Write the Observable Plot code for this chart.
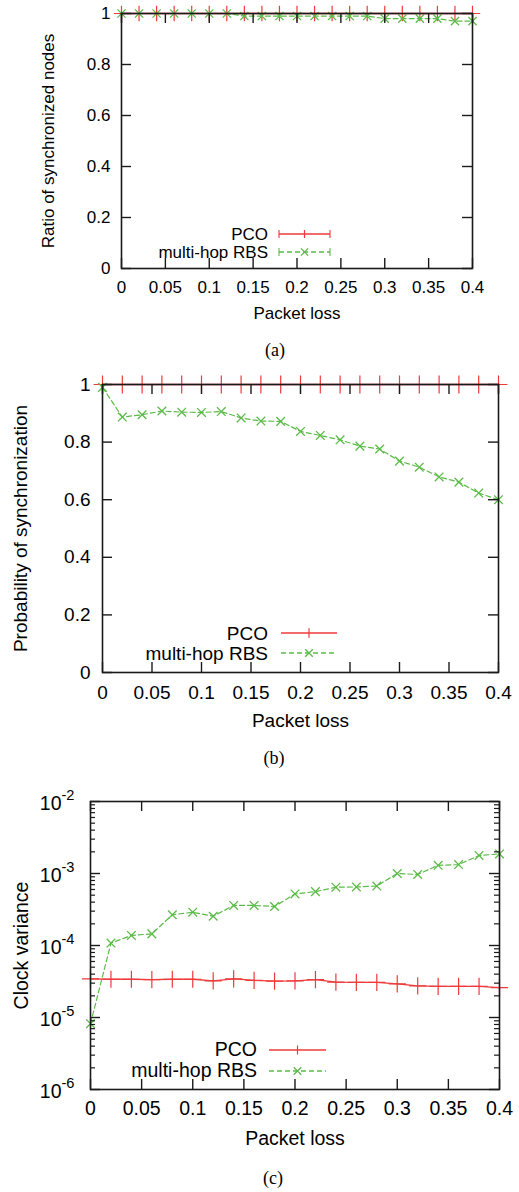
<!DOCTYPE html>
<html><head><meta charset="utf-8">
<script src="https://cdn.jsdelivr.net/npm/d3@7"></script>
<script src="https://cdn.jsdelivr.net/npm/@observablehq/plot@0.6"></script>
<style>
body{margin:0;background:#fff;}
#root{position:relative;width:519px;height:1192px;overflow:hidden;}
.panel{position:absolute;left:0;}
.cap{position:absolute;font-family:"Liberation Serif","DejaVu Serif",serif;font-size:18px;transform:translate(-50%,-50%);white-space:nowrap;}
.lg{position:absolute;font-family:"Liberation Sans",Arial,sans-serif;white-space:nowrap;text-align:right;line-height:1;}
.lgs{position:absolute;}
</style></head><body><div id="root"></div>
<script>
const packetLoss = [0,0.02,0.04,0.06,0.08,0.1,0.12,0.14,0.16,0.18,0.2,0.22,0.24,0.26,0.28,0.3,0.32,0.34,0.36,0.38,0.4];
const xTicks = [0,0.05,0.1,0.15,0.2,0.25,0.3,0.35,0.4];
const xTickLabels = ["0","0.05","0.1","0.15","0.2","0.25","0.3","0.35","0.4"];
const yTicks = [0,0.2,0.4,0.6,0.8,1];
const yTickLabels = ["0","0.2","0.4","0.6","0.8","1"];
const logTicks = [1e-6,1e-5,1e-4,1e-3,1e-2];
const logTickBase = ["10","10","10","10","10"];
const logTickExp = ["-6","-5","-4","-3","-2"];
const seriesNames = ["PCO","multi-hop RBS"];

// (a) Ratio of synchronized nodes
const pcoRatio = [1,1,1,1,1,1,1,1,1,1,1,1,1,1,1,1,1,1,1,1,1];
const rbsRatio = [1,1,1,1,1,1,1,0.99,0.99,0.99,0.99,0.99,0.99,0.99,0.99,0.98,0.98,0.98,0.98,0.97,0.97];
// (b) Probability of synchronization
const pcoProb = [1,1,1,1,1,1,1,1,1,1,1,1,1,1,1,1,1,1,1,1,1];
const rbsProb = [0.99,0.887,0.895,0.908,0.904,0.903,0.906,0.884,0.873,0.872,0.837,0.823,0.808,0.786,0.776,0.734,0.713,0.679,0.661,0.623,0.600];
// (c) Clock variance
const pcoVar = [3.44e-5,3.4e-5,3.4e-5,3.35e-5,3.4e-5,3.4e-5,3.23e-5,3.44e-5,3.27e-5,3.2e-5,3.23e-5,3.35e-5,3.1e-5,3.08e-5,3.08e-5,2.94e-5,2.75e-5,2.7e-5,2.7e-5,2.7e-5,2.6e-5];
const rbsVar = [8.2e-6,1.08e-4,1.38e-4,1.45e-4,2.67e-4,2.9e-4,2.55e-4,3.6e-4,3.6e-4,3.48e-4,5.2e-4,5.6e-4,6.45e-4,6.5e-4,6.7e-4,1.0e-3,9.7e-4,1.3e-3,1.33e-3,1.78e-3,1.87e-3];

const RED = "#f03a3a", GREEN = "#5bbb48", INK = "#1a1a1a";
const root = document.getElementById("root");

function minorLogTicks(){
  const out = [];
  for (let e = -6; e < -2; e++) for (let m = 2; m <= 9; m++) out.push(m * Math.pow(10, e));
  return out;
}

function makePanel(o){
  const W = 519 - o.mL - o.mR, H = o.height - o.mT - o.mB;
  const rows = packetLoss.map((x, i) => ({x, pco: o.pco[i], rbs: o.rbs[i]}));
  const marks = [
    Plot.line(rows, {x: "x", y: "pco", stroke: RED, strokeWidth: 1.3}),
    Plot.line(rows, {x: "x", y: "rbs", stroke: GREEN, strokeWidth: 1.2, strokeDasharray: "5,3"}),
    Plot.dot(rows, {x: "x", y: "pco", symbol: "plus", r: o.plusR, stroke: RED, strokeWidth: 1.2}),
    Plot.dot(rows, {x: "x", y: "rbs", symbol: "times", r: o.timesR, stroke: GREEN, strokeWidth: 1.3}),
    Plot.frame({stroke: INK, strokeWidth: 1.6}),
    Plot.tickX(xTicks, {x: d => d, stroke: INK, strokeWidth: 1.4, insetTop: H - 10}),
    Plot.tickX(xTicks, {x: d => d, stroke: INK, strokeWidth: 1.4, insetBottom: H - 10}),
    Plot.tickY(o.yTicks, {y: d => d, stroke: INK, strokeWidth: 1.4, insetRight: W - 10}),
    Plot.tickY(o.yTicks, {y: d => d, stroke: INK, strokeWidth: 1.4, insetLeft: W - 10}),
  ];
  if (o.minor) {
    marks.push(Plot.tickY(o.minor, {y: d => d, stroke: INK, strokeWidth: 1.2, insetRight: W - 5}));
    marks.push(Plot.tickY(o.minor, {y: d => d, stroke: INK, strokeWidth: 1.2, insetLeft: W - 5}));
  }
  marks.push(
    Plot.axisX({ticks: xTicks, tickFormat: (d, i) => xTickLabels[i], tickSize: 0, tickPadding: o.xPad, label: null, fontSize: o.fs}),
    Plot.text([o.yTitle], {frameAnchor: "left", dx: o.yTitleX - o.mL, rotate: -90, textAnchor: "middle", lineAnchor: "middle", text: d => d, fontSize: o.fs, fill: "#000"}),
    Plot.text(["Packet loss"], {frameAnchor: "bottom", dy: o.xTitleY, textAnchor: "middle", lineAnchor: "middle", text: d => d, fontSize: o.fs, fill: "#000"})
  );
  if (o.yType === "log") {
    marks.push(
      Plot.text(logTicks, {y: d => d, frameAnchor: "left", dx: -o.yPad - 15, dy: 2, textAnchor: "end", lineAnchor: "middle", text: (d, i) => logTickBase[i], fontSize: o.fs, fill: "#000"}),
      Plot.text(logTicks, {y: d => d, frameAnchor: "left", dx: -o.yPad - 15, dy: -6, textAnchor: "start", lineAnchor: "middle", text: (d, i) => logTickExp[i], fontSize: o.fs * 0.75, fill: "#000"})
    );
  } else {
    marks.push(Plot.axisY({ticks: o.yTicks, tickFormat: (d, i) => o.yLabels[i], tickSize: 0, tickPadding: o.yPad, label: null, fontSize: o.fs}));
  }
  const svg = Plot.plot({
    width: 519, height: o.height,
    marginLeft: o.mL, marginRight: o.mR, marginTop: o.mT, marginBottom: o.mB,
    x: {domain: [0, 0.4]},
    y: {type: o.yType || "linear", domain: o.yDomain, axis: null},
    style: {fontFamily: "'Liberation Sans', Arial, sans-serif", fontSize: o.fs + "px", color: "#000", background: "transparent", overflow: "visible"},
    marks
  });
  const div = document.createElement("div");
  div.className = "panel";
  div.style.top = o.top + "px";
  div.appendChild(svg);
  root.appendChild(div);

  // legend
  o.legend.rows.forEach((r, i) => {
    const lab = document.createElement("div");
    lab.className = "lg";
    lab.style.fontSize = o.fs + "px";
    lab.style.right = (519 - o.legend.right) + "px";
    lab.style.top = (r.y - o.fs * 0.5) + "px";
    lab.textContent = seriesNames[i];
    root.appendChild(lab);
    const x0 = o.legend.x0, x1 = o.legend.x1, w = x1 - x0 + 12, cx = w / 2;
    const col = i === 0 ? RED : GREEN;
    const dash = i === 0 ? "" : ` stroke-dasharray="5,3"`;
    let sym;
    if (i === 0) {
      const a = o.plusR * 0.8;
      sym = `<path d="M${cx},${9 - a}V${9 + a}" stroke="${col}" stroke-width="1.2"/>`;
    } else {
      const a = o.timesR * 0.95;
      sym = `<path d="M${cx - a},${9 - a}L${cx + a},${9 + a}M${cx - a},${9 + a}L${cx + a},${9 - a}" stroke="${col}" stroke-width="1.3"/>`;
    }
    let caps = "";
    if (o.legend.caps) caps = `<path d="M6,5V13M${w - 6},5V13" stroke="${col}" stroke-width="1.1"/>`;
    const sv = document.createElement("div");
    sv.className = "lgs";
    sv.style.left = (x0 - 6) + "px";
    sv.style.top = (r.y - 9) + "px";
    sv.innerHTML = `<svg width="${w}" height="18"><path d="M6,9H${w - 6}" stroke="${col}" stroke-width="1.3"${dash} fill="none"/>${sym}${caps}</svg>`;
    root.appendChild(sv);
  });
  const cap = document.createElement("div");
  cap.className = "cap";
  cap.style.left = o.cap.x + "px";
  cap.style.top = o.cap.y + "px";
  cap.textContent = o.cap.text;
  root.appendChild(cap);
}

makePanel({
  top: 0, height: 330, mL: 121, mR: 47, mT: 13, mB: 62, fs: 17,
  pco: pcoRatio, rbs: rbsRatio, yDomain: [0, 1], yTicks, yLabels: yTickLabels,
  xPad: 12, yPad: 11, yTitle: "Ratio of synchronized nodes", yTitleX: 48, xTitleY: 45,
  plusR: 5, timesR: 3.8,
  legend: {right: 268, x0: 279, x1: 330, caps: true, rows: [{y: 234}, {y: 252}]},
  cap: {text: "(a)", x: 275, y: 350}
});
makePanel({
  top: 370, height: 370, mL: 102, mR: 21, mT: 14, mB: 68, fs: 19,
  pco: pcoProb, rbs: rbsProb, yDomain: [0, 1], yTicks, yLabels: yTickLabels,
  xPad: 13, yPad: 12, yTitle: "Probability of synchronization", yTitleX: 20, xTitleY: 48,
  plusR: 5.8, timesR: 4,
  legend: {right: 268, x0: 281, x1: 337, caps: false, rows: [{y: 633}, {y: 653}]},
  cap: {text: "(b)", x: 274, y: 758}
});
makePanel({
  top: 780, height: 370, mL: 90, mR: 20, mT: 21, mB: 61, fs: 19.5,
  pco: pcoVar, rbs: rbsVar, yType: "log", yDomain: [1e-6, 1e-2], yTicks: logTicks,
  minor: minorLogTicks(),
  xPad: 12, yPad: 14, yTitle: "Clock variance", yTitleX: 21, xTitleY: 49,
  plusR: 5.6, timesR: 4,
  legend: {right: 257, x0: 269, x1: 326, caps: false, rows: [{y: 1050}, {y: 1071}]},
  cap: {text: "(c)", x: 273, y: 1178}
});
</script></body></html>
